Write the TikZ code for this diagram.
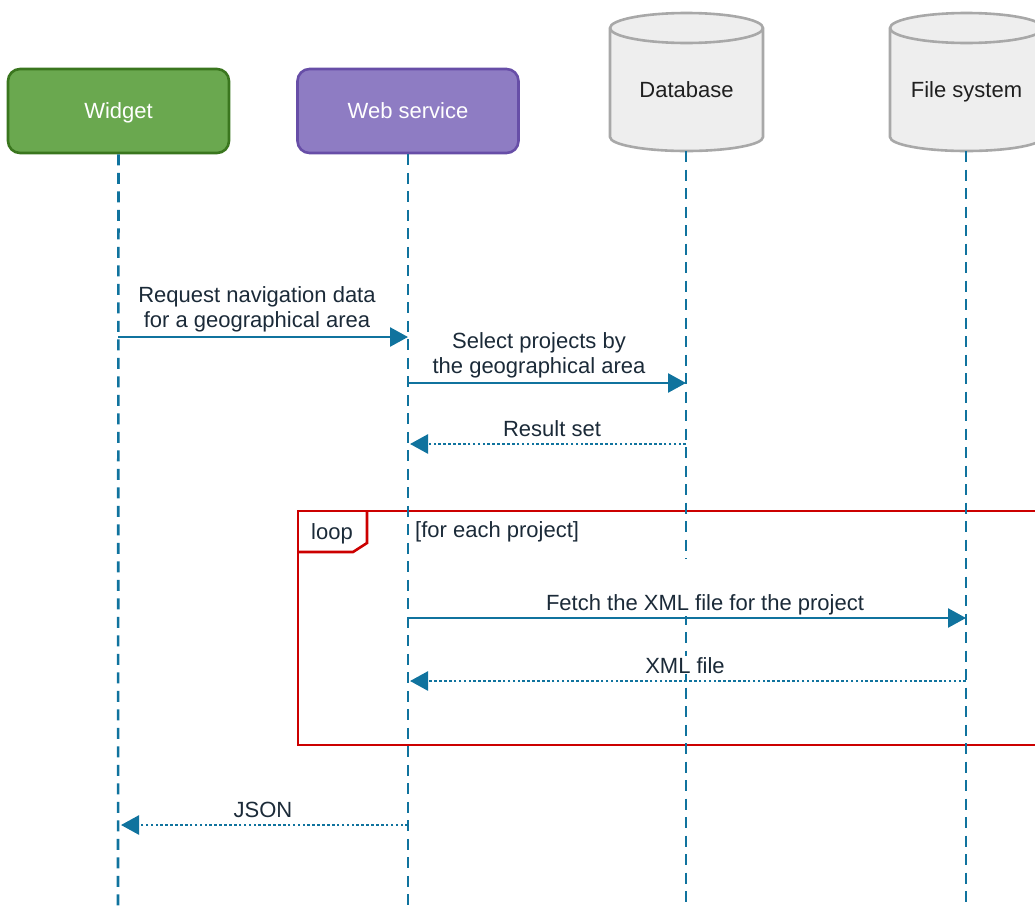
\documentclass[tikz,border=0pt]{standalone}
\usepackage{fontspec}
\setmainfont{Liberation Sans}
\usetikzlibrary{arrows.meta}
\definecolor{msgblue}{HTML}{10739E}
\definecolor{widgetfill}{HTML}{6AA84F}
\definecolor{widgetedge}{HTML}{3A761E}
\definecolor{svcfill}{HTML}{8E7CC3}
\definecolor{svcedge}{HTML}{674EA7}
\definecolor{storefill}{HTML}{EEEEEE}
\definecolor{storeedge}{HTML}{A8A8A8}
\definecolor{loopred}{HTML}{CC0000}
\definecolor{labeltext}{HTML}{1B2A38}
\tikzset{
  basefont/.style={font=\fontsize{22}{24.5}\selectfont},
  actor/.style={basefont, rounded corners=12pt, minimum width=221pt,
    minimum height=84pt, line width=2.6pt, text=white,
    text height=19.8pt, text depth=4.6pt},
  store/.style={fill=storefill, draw=storeedge, line width=2.6pt},
  storetext/.style={basefont, text=black!88, text height=15.8pt, text depth=4.6pt},
  lifeline/.style={draw=msgblue, line width=2.6pt, dash pattern=on 11pt off 7.5pt},
  call/.style={draw=msgblue, line width=2.6pt,
    -{Triangle[length=18pt,width=19pt]}, fill=msgblue},
  reply/.style={draw=msgblue, line width=2.6pt, dash pattern=on 2.6pt off 2.3pt,
    -{Triangle[length=18pt,width=19pt]}},
  msglabel/.style={basefont, text=labeltext, align=center, inner sep=1pt},
  frame/.style={draw=loopred, line width=2.6pt},
}
\begin{document}
\begin{tikzpicture}[x=1pt, y=-1pt]
\useasboundingbox (0,0) rectangle (1035,908);
\clip (0,0) rectangle (1035,908);

% participants
\node[actor, fill=widgetfill, draw=widgetedge] (widget) at (118.5,111) {Widget};
\node[actor, fill=svcfill, draw=svcedge] (service) at (408,111) {Web service};

\path[store] (610,28) -- (610,137) arc[start angle=180, end angle=0, x radius=76.5, y radius=14]
  -- (763,28) arc[start angle=0, end angle=-180, x radius=76.5, y radius=15] -- cycle;
\draw[store, fill=none] (610,28) arc[start angle=180, end angle=0, x radius=76.5, y radius=15];
\node[storetext] (database) at (686.5,92) {Database};

\path[store] (890,28) -- (890,137) arc[start angle=180, end angle=0, x radius=76.5, y radius=14]
  -- (1043,28) arc[start angle=0, end angle=-180, x radius=76.5, y radius=15] -- cycle;
\draw[store, fill=none] (890,28) arc[start angle=180, end angle=0, x radius=76.5, y radius=15];
\node[storetext] (files) at (966.5,92) {File system};

% loop fragment
\draw[frame] (298,511) rectangle (1045,745);
\draw[frame] (298,552) -- (353,552) -- (367,543) -- (367,511);
\node[basefont, text=labeltext, anchor=base] (looptag) at (332,539) {loop};
\node[basefont, text=labeltext, anchor=base west, inner sep=0pt] (guard) at (415,537) {[for each project]};

% lifelines
\coordinate (dbtop) at (686,151);
\coordinate (fstop) at (966,151);
\coordinate (widgetend) at (118,908);
\coordinate (serviceend) at (408,908);
\coordinate (dbend) at (686,908);
\coordinate (fsend) at (966,908);
\draw[lifeline] (widget.south) -- (widgetend);
\draw[lifeline] (service.south) -- (serviceend);
\draw[lifeline] (dbtop) -- (dbend);
\draw[lifeline] (fstop) -- (fsend);

% message end points on the lifelines
\coordinate (req-a) at (118,337);  \coordinate (req-b) at (408,337);
\coordinate (sel-a) at (408,383);  \coordinate (sel-b) at (686,383);
\coordinate (res-a) at (686,444);  \coordinate (res-b) at (410,444);
\coordinate (fet-a) at (408,618);  \coordinate (fet-b) at (966,618);
\coordinate (xml-a) at (966,681);  \coordinate (xml-b) at (410,681);
\coordinate (json-a) at (408,825); \coordinate (json-b) at (121,825);

% messages
\draw[call] (req-a) -- (req-b);
\draw[call] (sel-a) -- (sel-b);
\draw[reply] (res-a) -- (res-b);
\draw[call] (fet-a) -- (fet-b);
\draw[reply] (xml-a) -- (xml-b);
\draw[reply] (json-a) -- (json-b);

% message labels
\node[msglabel, anchor=south] (reqlabel) at (257,333) {Request navigation data\\for a geographical area};
\node[msglabel, anchor=south] (sellabel) at (539,379) {Select projects by\\the geographical area};
\node[msglabel, anchor=base] (reslabel) at (552,436) {Result set};
\node[msglabel, anchor=base, fill=white, text height=50pt] (fetlabel) at (705,610) {Fetch the XML file for the project};
\node[msglabel, anchor=base, fill=white] (xmllabel) at (685,673) {XML file};
\node[msglabel, anchor=base] (jsonlabel) at (263,817) {JSON};
\end{tikzpicture}
\end{document}
